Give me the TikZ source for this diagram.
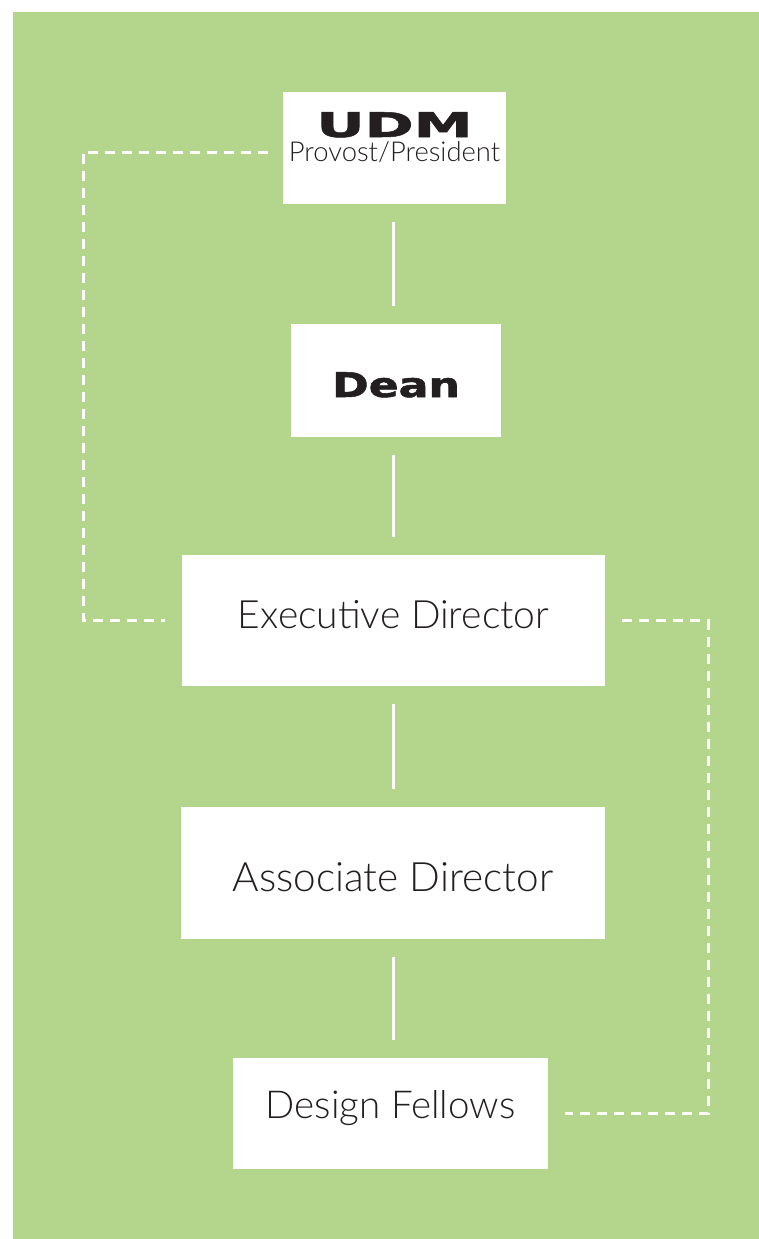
\documentclass[tikz,border=0pt]{standalone}
\usepackage{fontspec}
\usepackage{graphicx}
\setmainfont{Lato}[UprightFont=* Light]
\newfontfamily\heavyfont{DejaVu Sans}[BoldFeatures={FakeBold=1.5}]
\definecolor{bggreen}{HTML}{B3D68C}
\definecolor{txtgray}{HTML}{231F20}
\newcommand{\heavytext}[2]{{\heavyfont\bfseries\fontsize{34}{34}\selectfont\scalebox{#1}[1]{#2}}}
\begin{document}
\begin{tikzpicture}[x=1pt,y=-1pt,
  box/.style={fill=white, draw=none, inner sep=0pt, text=txtgray},
  lbl/.style={font=\fontsize{#1}{#1}\selectfont},
  conn/.style={draw=white, line width=3pt, shorten >=18pt, shorten <=18pt},
  dashline/.style={draw=white, line width=3pt, dash pattern=on 10pt off 7pt}]
\useasboundingbox (0,0) rectangle (759,1239);
\fill[bggreen] (13,12) rectangle (759,1239);
\coordinate (spine) at (393,0);
\coordinate (lcol) at (83,0);
\coordinate (rcol) at (708,0);
% boxes
\node[box, minimum width=223pt, minimum height=112pt, text height=25pt, text depth=47pt] (udm) at (394.5,148)
  {\vtop{\baselineskip=24pt \lineskiplimit=-100pt \lineskip=0pt
   \halign{\hfil#\hfil\cr \heavytext{1.74}{UDM}\cr {\fontsize{27.4}{27.4}\selectfont Provost/President}\cr}}};
\node[box, minimum width=210pt, minimum height=113pt, text height=33pt, text depth=0pt] (dean) at (396,380.5) {\heavytext{1.3}{Dean}};
\node[box, lbl=39, minimum width=423pt, minimum height=131pt, text height=27pt, text depth=11pt] (exec) at (393.5,620.5) {Executive Director};
\node[box, lbl=40.5, minimum width=424pt, minimum height=132pt, text height=36pt, text depth=0pt] (assoc) at (393,873) {Associate Director};
\node[box, lbl=38.5, minimum width=315pt, minimum height=111pt, text height=26pt, text depth=16pt] (design) at (390.5,1113.5) {Design Fellows};
% solid connectors
\draw[conn] (spine |- udm.south) -- (spine |- dean.north);
\draw[conn] (spine |- dean.south) -- (spine |- exec.north);
\draw[conn] (spine |- exec.south) -- (spine |- assoc.north);
\draw[conn] (spine |- assoc.south) -- (spine |- design.north);
% dashed connectors
\draw[dashline] ([xshift=-15pt,yshift=-4pt]udm.west) -| (lcol |- exec.west) -- ([xshift=-17pt]exec.west);
\draw[dashline] ([xshift=17pt]exec.east) -| (rcol |- design.east) -- ([xshift=17pt]design.east);
\end{tikzpicture}
\end{document}
